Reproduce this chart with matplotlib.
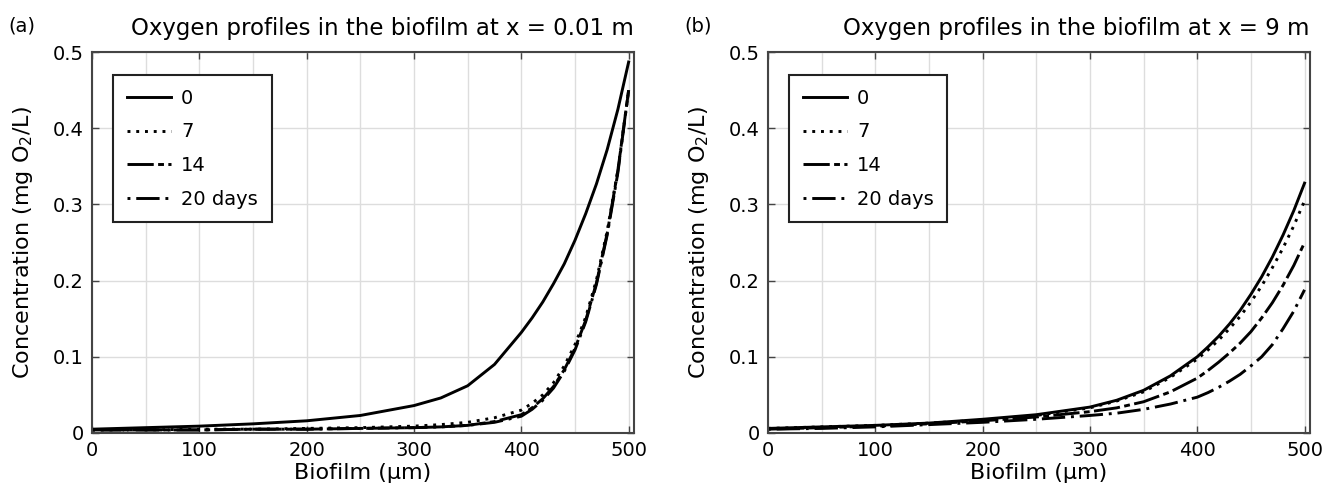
import matplotlib.pyplot as plt
from matplotlib.ticker import MultipleLocator, FormatStrFormatter

# biofilm depth (um) where values were read
depth = [0, 50, 100, 150, 200, 250, 300, 325, 350, 375, 400, 410, 420, 430, 440, 450,
         460, 470, 480, 490, 500]

# (a) x = 0.01 m
a_d0 = [0.005, 0.007, 0.009, 0.012, 0.016, 0.023, 0.036, 0.046, 0.062, 0.090, 0.132,
        0.151, 0.172, 0.196, 0.222, 0.253, 0.288, 0.327, 0.372, 0.425, 0.487]
a_d7 = [0.004, 0.004, 0.005, 0.005, 0.006, 0.007, 0.009, 0.011, 0.014, 0.020, 0.030,
        0.039, 0.050, 0.066, 0.088, 0.116, 0.152, 0.201, 0.265, 0.345, 0.450]
a_d14 = [0.004, 0.004, 0.004, 0.005, 0.005, 0.006, 0.007, 0.008, 0.010, 0.015, 0.024,
         0.033, 0.045, 0.061, 0.083, 0.111, 0.148, 0.197, 0.262, 0.345, 0.450]
a_d20 = [0.004, 0.004, 0.004, 0.005, 0.005, 0.006, 0.007, 0.008, 0.010, 0.014, 0.022,
         0.031, 0.043, 0.059, 0.081, 0.109, 0.146, 0.195, 0.260, 0.342, 0.450]

# (b) x = 9 m
b_d0 = [0.006, 0.008, 0.010, 0.013, 0.018, 0.024, 0.034, 0.043, 0.056, 0.075, 0.100,
        0.113, 0.127, 0.143, 0.161, 0.182, 0.205, 0.231, 0.260, 0.292, 0.328]
b_d7 = [0.006, 0.008, 0.010, 0.013, 0.017, 0.023, 0.033, 0.042, 0.054, 0.073, 0.097,
        0.109, 0.122, 0.137, 0.153, 0.172, 0.193, 0.217, 0.243, 0.272, 0.305]
b_d14 = [0.005, 0.007, 0.009, 0.012, 0.016, 0.021, 0.028, 0.033, 0.041, 0.054, 0.072,
         0.082, 0.093, 0.105, 0.118, 0.133, 0.151, 0.171, 0.194, 0.220, 0.250]
b_d20 = [0.005, 0.006, 0.008, 0.011, 0.014, 0.018, 0.023, 0.026, 0.031, 0.038, 0.047,
         0.053, 0.060, 0.068, 0.077, 0.088, 0.100, 0.116, 0.137, 0.160, 0.188]

labels = ['0', '7', '14', '20 days']
styles = ['-', (0, (1, 2)), (0, (9, 1.5, 2, 1.5)), (0, (1, 2, 8, 2))]

panels = [
    ('(a)', 'Oxygen profiles in the biofilm at x = 0.01 m', [a_d0, a_d7, a_d14, a_d20]),
    ('(b)', 'Oxygen profiles in the biofilm at x = 9 m', [b_d0, b_d7, b_d14, b_d20]),
]

fig = plt.figure(figsize=(13.3, 4.94), dpi=100)
lefts = [0.0692, 0.5774]

for left, (tag, title, series) in zip(lefts, panels):
    ax = fig.add_axes([left, 0.1235, 0.4075, 0.771])
    for vals, lab, ls in zip(series, labels, styles):
        ax.plot(depth, vals, color='black', lw=2.1, linestyle=ls, label=lab)

    ax.set_xlim(0, 505)
    ax.set_ylim(0, 0.5)
    ax.xaxis.set_major_locator(MultipleLocator(100))
    ax.xaxis.set_minor_locator(MultipleLocator(50))
    ax.yaxis.set_major_locator(MultipleLocator(0.1))
    ax.yaxis.set_major_formatter(FormatStrFormatter('%g'))
    ax.tick_params(which='major', direction='in', top=True, right=True,
                   length=5, width=1, labelsize=14, color='#444444', pad=6)
    ax.tick_params(which='minor', length=0)
    ax.grid(which='both', axis='x', color='#dddddd', lw=1)
    ax.grid(which='major', axis='y', color='#dddddd', lw=1)
    for sp in ax.spines.values():
        sp.set_color('#444444')
        sp.set_linewidth(1.5)

    ax.set_xlabel('Biofilm (µm)', fontsize=16, labelpad=2)
    ax.set_ylabel('Concentration (mg O$_2$/L)', fontsize=16, labelpad=13)
    ax.set_title(title, fontsize=16.5, loc='right', pad=12)
    ax.text(-0.155, 1.055, tag, transform=ax.transAxes, fontsize=14)

    leg = ax.legend(loc='upper left', bbox_to_anchor=(0.021, 0.965), fontsize=14,
                    handlelength=2.3, handletextpad=0.5, borderpad=0.7,
                    labelspacing=0.75, fancybox=False, framealpha=1)
    leg.get_frame().set_edgecolor('#222222')
    leg.get_frame().set_linewidth(1.5)

plt.savefig('out.png', dpi=100)
